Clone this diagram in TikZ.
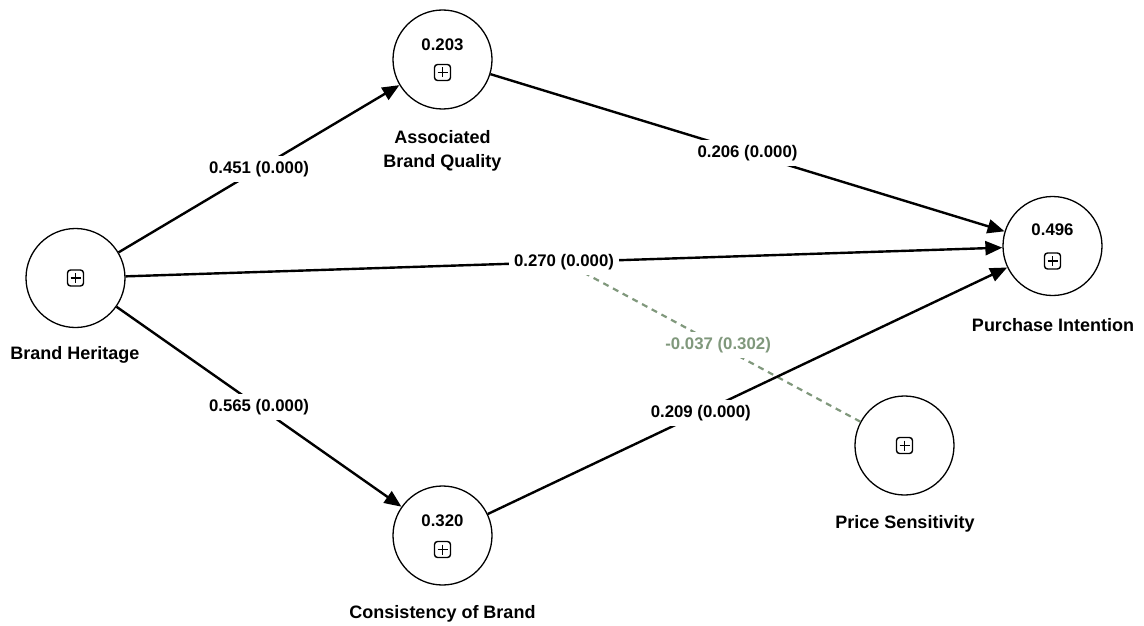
\documentclass[tikz,border=0pt]{standalone}
\usepackage{fontspec}
\setmainfont{Liberation Sans}
\usetikzlibrary{arrows.meta,calc}
\definecolor{modgreen}{RGB}{128,152,124}
\begin{document}
\begin{tikzpicture}[x=1pt,y=-1pt,
 construct/.style={circle,draw,line width=1.3pt,minimum size=99pt,inner sep=0pt},
 namelab/.style={font=\fontsize{18}{24}\selectfont\bfseries,align=center,inner sep=0pt},
 valtxt/.style={font=\fontsize{16.8}{20}\selectfont\bfseries,inner sep=0pt},
 edge/.style={line width=2.4pt,-{Triangle[length=17pt,width=14pt]}},
 elab/.style={fill=white,inner sep=5pt,font=\fontsize{16.8}{20}\selectfont\bfseries},
 modline/.style={modgreen,line width=2.2pt,dash pattern=on 6pt off 5pt},
 modlab/.style={fill=white,inner sep=5pt,text=modgreen,font=\fontsize{16.8}{20}\selectfont\bfseries},
 plusbox/.pic={\draw[line width=1.4pt,rounded corners=3pt] (-8,-8) rectangle (8,8);
               \draw[line width=1.4pt] (-5,0) -- (5,0) (0,-5) -- (0,5);}
]
\useasboundingbox (0,0) rectangle (1144,626);

% constructs
\node[construct] (bh)  at (75.5,278)   {};
\node[construct] (abq) at (442.5,59.5) {};
\node[construct] (pi)  at (1052.5,246) {};
\node[construct] (ps)  at (904.5,445.5){};
\node[construct] (cb)  at (442.5,535.5){};

% plus boxes
\pic at (bh) {plusbox};
\pic at ($(abq)+(0,13)$) {plusbox};
\pic at ($(pi)+(0,15)$) {plusbox};
\pic at (ps) {plusbox};
\pic at ($(cb)+(0,14)$) {plusbox};

% R-squared values
\node[valtxt] (vabq) at ($(abq)+(0,-15)$) {0.203};
\node[valtxt] (vpi)  at ($(pi)+(0,-16)$)  {0.496};
\node[valtxt] (vcb)  at ($(cb)+(0,-15)$)  {0.320};

% names
\node[namelab] (nbh)  at (75,355)     {Brand Heritage};
\node[namelab] (nabq) at (442.5,150.5){Associated\\Brand Quality};
\node[namelab] (npi)  at (1053,325)   {Purchase Intention};
\node[namelab] (nps)  at (905,524)    {Price Sensitivity};
\node[namelab] (ncb)  at (442.5,614)  {Consistency of Brand};

% moderating effect
\path (bh) -- coordinate[pos=0.5] (m270) (pi);
\draw[modline] (ps) -- node[modlab,pos=0.48] (lmod) {-0.037 (0.302)} (m270);

% paths
\draw[edge] (bh)  -- node[elab,pos=0.5]  (l451) {0.451 (0.000)} (abq);
\draw[edge] (bh)  -- node[elab,pos=0.5]  (l565) {0.565 (0.000)} (cb);
\draw[edge] (abq) -- node[elab,pos=0.5]  (l206) {0.206 (0.000)} (pi);
\draw[edge] (bh)  -- node[elab,pos=0.5]  (l270) {0.270 (0.000)} (pi);
\draw[edge] (cb)  -- node[elab,pos=0.41] (l209) {0.209 (0.000)} (pi);
\end{tikzpicture}
\end{document}
